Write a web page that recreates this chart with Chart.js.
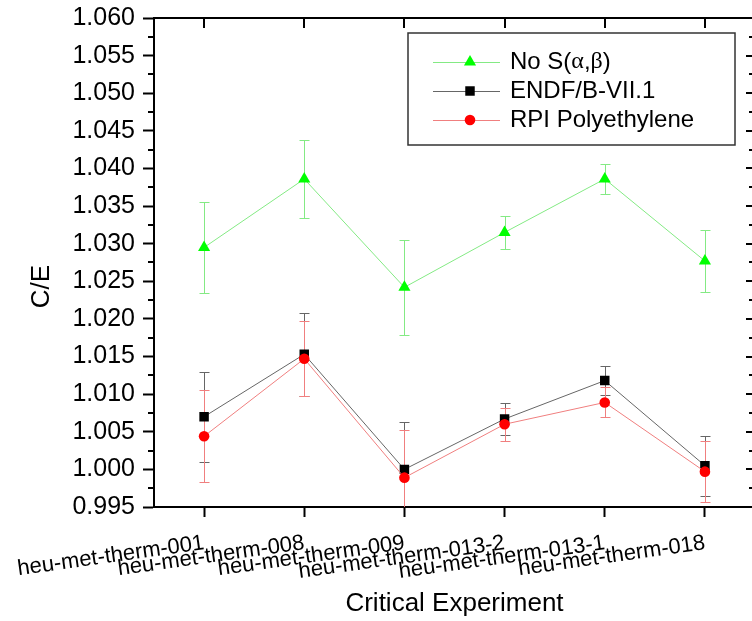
<!DOCTYPE html>
<html>
<head>
<meta charset="utf-8">
<title>C/E by critical experiment</title>
<script src="https://cdn.jsdelivr.net/npm/chart.js@4.4.0/dist/chart.umd.min.js"></script>
<style>
  html, body { margin: 0; padding: 0; overflow: hidden; background: #fff; }
  #wrap { width: 752px; height: 621px; overflow: hidden; position: relative; }
  canvas { display: block; }
</style>
</head>
<body>
<div id="wrap">
  <canvas id="ceChart" width="758" height="621"></canvas>
</div>
<script>
const experiments = [
  'heu-met-therm-001',
  'heu-met-therm-008',
  'heu-met-therm-009',
  'heu-met-therm-013-2',
  'heu-met-therm-013-1',
  'heu-met-therm-018'
];

// C/E and 1-sigma uncertainty per experiment
const noSab     = [1.0295, 1.0386, 1.0242, 1.0315, 1.0386, 1.0277];
const noSabErr  = [0.0060, 0.0052, 0.0063, 0.0022, 0.0020, 0.0041];
const endf71    = [1.0070, 1.0153, 1.0000, 1.0067, 1.0118, 1.0005];
const endf71Err = [0.0060, 0.0055, 0.0063, 0.0021, 0.0019, 0.0040];
const rpiPoly   = [1.0044, 1.0147, 0.9989, 1.0060, 1.0089, 0.9997];
const rpiErr    = [0.0061, 0.0050, 0.0063, 0.0022, 0.0020, 0.0041];

const yMin = 0.995, yMax = 1.060, yStep = 0.005;
const yTitle = 'C/E';

const FONT = "'Liberation Sans', Arial, sans-serif";
Chart.defaults.font.family = FONT;
Chart.defaults.color = '#000';

// vertical error bars with caps, under the markers
const errorBars = {
  id: 'errorBars',
  beforeDatasetsDraw(chart) {
    const { ctx, chartArea: a, scales: { y } } = chart;
    ctx.save();
    ctx.beginPath();
    ctx.rect(a.left, a.top, a.right - a.left, a.bottom - a.top);
    ctx.clip();
    chart.data.datasets.forEach((ds, i) => {
      const meta = chart.getDatasetMeta(i);
      ctx.strokeStyle = ds.borderColor;
      ctx.lineWidth = 1;
      meta.data.forEach((pt, j) => {
        const v = ds.data[j], e = ds.errors[j];
        const top = Math.round(y.getPixelForValue(v + e)) + 0.5;
        const bot = Math.round(y.getPixelForValue(v - e)) + 0.5;
        const x = Math.round(pt.x) + 0.5;
        ctx.beginPath();
        ctx.moveTo(x, top); ctx.lineTo(x, bot);
        ctx.moveTo(x - 5, top); ctx.lineTo(x + 5, top);
        ctx.moveTo(x - 5, bot); ctx.lineTo(x + 5, bot);
        ctx.stroke();
      });
    });
    ctx.restore();
  }
};

// closed frame: top + right axis lines, inward ticks, minor ticks, y title
const frame = {
  id: 'frame',
  afterDraw(chart) {
    const { ctx, chartArea: a, scales: { x, y } } = chart;
    ctx.save();
    ctx.strokeStyle = '#000';
    ctx.lineWidth = 2;
    ctx.beginPath();
    ctx.moveTo(a.left - 1, a.top); ctx.lineTo(a.right + 1, a.top);
    ctx.moveTo(a.right, a.top); ctx.lineTo(a.right, a.bottom);
    x.ticks.forEach((t, i) => {
      const px = Math.round(x.getPixelForTick(i));
      ctx.moveTo(px, a.top); ctx.lineTo(px, a.top + 10);
    });
    const n = Math.round((yMax - yMin) / (yStep / 2));
    for (let k = 0; k <= n; k++) {
      const py = Math.round(y.getPixelForValue(yMin + k * yStep / 2));
      if (k % 2 === 0) {
        ctx.moveTo(a.right, py); ctx.lineTo(a.right - 9, py);
      } else {
        ctx.moveTo(a.left, py); ctx.lineTo(a.left - 6, py);
        ctx.moveTo(a.right, py); ctx.lineTo(a.right - 6, py);
      }
    }
    ctx.stroke();

    // axis title sits a little below the middle of the axis
    ctx.translate(42, y.getPixelForValue(1.0243));
    ctx.rotate(-Math.PI / 2);
    ctx.font = '26px ' + FONT;
    ctx.fillStyle = '#000';
    ctx.textAlign = 'center';
    ctx.textBaseline = 'middle';
    ctx.fillText(yTitle, 0, 0);
    ctx.restore();
  }
};

function drawMarker(ctx, style, x, y, r) {
  ctx.beginPath();
  if (style === 'triangle') {
    for (let k = 0; k < 3; k++) {
      const ang = k * 2 * Math.PI / 3;
      const px = x + Math.sin(ang) * r, py = y - Math.cos(ang) * r;
      k ? ctx.lineTo(px, py) : ctx.moveTo(px, py);
    }
    ctx.closePath();
  } else if (style === 'rect') {
    const s = r * Math.SQRT1_2;
    ctx.rect(x - s, y - s, 2 * s, 2 * s);
  } else {
    ctx.arc(x, y, r, 0, Math.PI * 2);
  }
  ctx.fill();
}

// boxed legend inside the plot, top right
const boxLegend = {
  id: 'boxLegend',
  afterDraw(chart) {
    const { ctx, chartArea: a } = chart;
    const left = a.right - 347, top = a.top + 15, w = 327, h = 112;
    ctx.save();
    ctx.fillStyle = '#fff';
    ctx.fillRect(left, top, w, h);
    ctx.strokeStyle = '#333';
    ctx.lineWidth = 1.5;
    ctx.strokeRect(left, top, w, h);
    ctx.textBaseline = 'middle';
    chart.data.datasets.forEach((ds, i) => {
      const cy = top + 29 + i * 29;
      ctx.strokeStyle = ds.borderColor;
      ctx.lineWidth = 1;
      ctx.beginPath();
      ctx.moveTo(left + 25, cy + 0.5); ctx.lineTo(left + 92, cy + 0.5);
      ctx.stroke();
      ctx.fillStyle = ds.pointBackgroundColor;
      drawMarker(ctx, ds.pointStyle, left + 62, cy, ds.pointRadius);
      ctx.fillStyle = '#000';
      let tx = left + 102;
      for (const ch of ds.label) {
        ctx.font = /[α-ω]/.test(ch) ? "24px 'Liberation Serif', serif" : '24px ' + FONT;
        ctx.fillText(ch, tx, cy);
        tx += ctx.measureText(ch).width;
      }
    });
    ctx.restore();
  }
};

new Chart(document.getElementById('ceChart'), {
  type: 'line',
  data: {
    labels: experiments,
    datasets: [
      {
        label: 'No S(α,β)', data: noSab, errors: noSabErr, order: 2,
        borderColor: '#84ea84', borderWidth: 1,
        pointStyle: 'triangle', pointRadius: 7, pointBorderWidth: 0,
        pointBackgroundColor: '#00ff00'
      },
      {
        label: 'ENDF/B-VII.1', data: endf71, errors: endf71Err, order: 1,
        borderColor: '#666', borderWidth: 1,
        pointStyle: 'rect', pointRadius: 6.7, pointBorderWidth: 0,
        pointBackgroundColor: '#000'
      },
      {
        label: 'RPI Polyethylene', data: rpiPoly, errors: rpiErr, order: 0,
        borderColor: '#f07f7f', borderWidth: 1,
        pointStyle: 'circle', pointRadius: 5.3, pointBorderWidth: 0,
        pointBackgroundColor: '#ff0000'
      }
    ]
  },
  options: {
    responsive: false,
    animation: false,
    devicePixelRatio: 1,
    layout: { autoPadding: false, padding: { left: 26, top: 18, right: 3, bottom: 2 } },
    plugins: {
      legend: { display: false },
      tooltip: { enabled: false }
    },
    scales: {
      x: {
        type: 'category',
        offset: true,
        grid: {
          drawOnChartArea: false, tickLength: 10, tickColor: '#000', tickWidth: 2
        },
        border: { color: '#000', width: 2 },
        ticks: {
          autoSkip: false, minRotation: 8, maxRotation: 8, padding: 13,
          font: { size: 22 }, color: '#000'
        },
        title: {
          display: true, text: 'Critical Experiment', padding: 0,
          font: { size: 26, lineHeight: 1.2 }, color: '#000'
        },
        afterFit(scale) {
          scale.height = 112;
          scale.paddingLeft = 0;
          scale.paddingRight = 0;
        }
      },
      y: {
        min: yMin, max: yMax,
        grid: {
          drawOnChartArea: false, tickLength: 11, tickColor: '#000', tickWidth: 2
        },
        border: { color: '#000', width: 2 },
        ticks: {
          stepSize: yStep, padding: 8,
          font: { size: 25 }, color: '#000',
          callback: v => Number(v).toFixed(3)
        },
        afterFit(scale) {
          scale.width = 128;
          scale.paddingTop = 0;
          scale.paddingBottom = 0;
        }
      }
    }
  },
  plugins: [errorBars, frame, boxLegend]
});
</script>
</body>
</html>
